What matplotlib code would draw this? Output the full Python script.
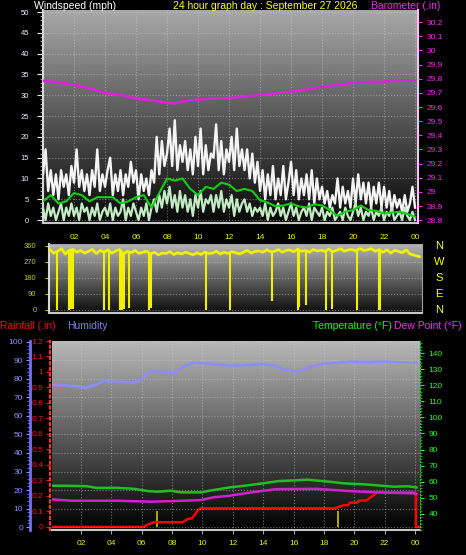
import matplotlib.pyplot as plt
import numpy as np

plt.rcParams['font.family'] = ['Liberation Sans', 'DejaVu Sans']

# hour-of-day axis labels
hour_ticks = [2, 4, 6, 8, 10, 12, 14, 16, 18, 20, 22, 24]
hour_labels = ['02', '04', '06', '08', '10', '12', '14', '16', '18', '20', '22', '00']

# wind gusts, 10 minute samples (mph)
gust = [11, 17, 7, 12, 6, 11,
        5, 12, 8, 11, 6, 13,
        9, 17, 8, 12, 7, 11,
        6, 12, 8, 17, 7, 11,
        8, 12, 15, 6, 11, 7,
        12, 6, 11, 8, 14, 9,
        12, 5, 11, 7, 10, 6,
        12, 9, 20, 11, 19, 13,
        16, 22, 13, 24, 12, 18,
        14, 19, 12, 17, 11, 20,
        13, 22, 11, 18, 12, 16,
        15, 23, 12, 19, 11, 17,
        14, 20, 12, 22, 13, 17,
        12, 17, 10, 16, 9, 14,
        7, 12, 5, 11, 6, 13,
        5, 10, 6, 13, 5, 9,
        14, 6, 12, 5, 10, 6,
        11, 5, 12, 4, 10, 5,
        8, 4, 7, 3, 6, 4,
        10, 3, 8, 4, 7, 3,
        10, 4, 11, 5, 9, 4,
        9, 3, 8, 4, 9, 3,
        8, 3, 7, 2, 6, 3,
        5, 2, 6, 2, 4, 8,
        3]
# average wind speed, 10 minute samples (mph)
avg_speed = [3, 0, 4, 1, 3, 0,
             2, 4, 0, 3, 1, 4,
             1, 3, 0, 4, 2, 3,
             0, 3, 1, 4, 0, 2,
             3, 1, 4, 0, 3, 1,
             2, 5, 0, 3, 1, 4,
             2, 0, 3, 1, 4, 0,
             3, 5, 2, 6, 3, 7,
             4, 8, 3, 6, 2, 7,
             3, 6, 2, 5, 1, 6,
             3, 7, 2, 5, 4, 6,
             2, 6, 3, 7, 2, 5,
             3, 6, 1, 5, 2, 4,
             5, 2, 4, 1, 3, 2,
             3, 1, 4, 0, 3, 1,
             2, 4, 1, 3, 0, 2,
             4, 1, 3, 0, 2, 3,
             1, 4, 0, 3, 2, 1,
             3, 0, 2, 1, 3, 0,
             1, 2, 0, 3, 1, 0,
             2, 4, 1, 3, 0, 2,
             1, 3, 0, 2, 1, 3,
             0, 2, 1, 3, 0, 1,
             2, 0, 3, 1, 0, 2,
             0]
# running average wind, half-hourly (mph)
wind_mean = [4.5, 6, 4, 4.5, 6.5, 6, 4.5, 5.5, 5.5, 5.5, 4, 4.5, 5.5, 6, 3,
             6.5, 10, 9.5, 10, 7.5, 6, 8, 7.5, 9, 8.5, 7, 7.5, 7, 4.8,
             4.2, 3.3, 3.5, 4, 3.3, 3, 3.8, 3.5, 2.4, 1, 2, 2.4, 3.5, 2.4,
             2.2, 1.6, 1.8, 2, 1.5, 0.8]
# barometer (in)
baro_t = [0, 1, 2, 3, 4, 5, 6, 7, 8, 8.5, 9, 10, 11, 12.3, 14, 16.1, 18, 20, 21.3, 21.7, 22.6, 24]
baro = [29.786, 29.774, 29.757, 29.733, 29.70, 29.686, 29.66, 29.648, 29.63, 29.625, 29.64,
        29.652, 29.66, 29.666, 29.686, 29.709, 29.743, 29.77, 29.78, 29.774, 29.79, 29.786]

# wind direction, 15 minute samples (deg)
wdir = [335, 325, 340, 320, 330, 345, 315, 335, 340, 325, 335, 320,
        330, 340, 318, 335, 325, 338, 320, 332, 340, 315, 330, 322,
        335, 318, 325, 330, 315, 325, 310, 320, 318, 328, 312, 322,
        315, 325, 318, 310, 322, 312, 325, 318, 320, 330, 315, 325,
        318, 328, 322, 315, 325, 335, 320, 330, 332, 325, 338, 328,
        330, 340, 325, 335, 338, 328, 342, 330, 335, 325, 340, 332,
        336, 330, 342, 328, 335, 345, 330, 338, 340, 332, 346, 335,
        338, 345, 330, 340, 325, 338, 320, 335, 330, 322, 338, 315, 300]
# short swings of the vane
swing_t = [0.95, 1.74, 1.87, 1.98, 4.0, 4.32, 5.03, 5.18, 5.29, 5.63, 6.9, 7.03,
           10.6, 12.1, 14.85, 16.54, 16.6, 17.06, 18.35, 18.7, 20.3, 21.72, 21.78]
swing_low = [0, 0, 5, 5, 0, 0, 0, 0, 5, 10, 0, 10, 0, 0, 50, 0, 15, 30, 0, 5, 0, 0, 0]

# rainfall (in), cumulative
rain_t = [0, 6.1, 6.4, 6.8, 8.7, 9.0, 9.3, 9.5, 9.7, 9.9, 18.7, 19.0, 19.3, 19.6, 19.7,
          20.2, 20.3, 20.8, 21.0, 21.3, 21.5, 24.05, 24.06, 24.3]
rain = [0, 0, 0.015, 0.03, 0.03, 0.05, 0.055, 0.08, 0.11, 0.12, 0.12, 0.13, 0.14, 0.14,
        0.157, 0.157, 0.17, 0.17, 0.185, 0.206, 0.224, 0.224, 0, 0]
rate_t = [6.99, 18.93]
rate = [0.1, 0.1]
# humidity (%)
hum_t = [0, 1, 2, 2.3, 3, 3.5, 4.5, 5.5, 5.9, 6.6, 7.5, 8.1, 8.8, 9.4, 10.3, 11.6, 12,
         13, 14, 14.9, 15.3, 16.3, 16.8, 17.8, 18.6, 19.7, 21, 22, 23, 24.1]
hum = [77, 76.5, 76, 75, 77, 79, 78.5, 78, 79.5, 84, 84, 83, 87, 88.8, 88.3, 87.5, 87,
       87.5, 88, 87, 85.2, 84, 85.7, 88, 88.6, 89.4, 89.2, 89.4, 89, 88.8]
# temperature and dew point (F)
temp_t = [0, 1, 2.4, 3, 4.4, 5.5, 6.4, 7, 7.9, 8.6, 9.9, 10.7, 11.8, 12.5, 14, 15, 16.4,
          16.9, 18.4, 19.3, 20.8, 22.6, 23.5, 24.1]
temp = [57.5, 57.5, 57.2, 56.2, 56.2, 55.6, 54.2, 53.8, 54.4, 53.4, 53.4, 54.8, 56.5,
        57.2, 59, 60.4, 61, 61.3, 60, 59, 58.3, 56.9, 57.2, 56.5]
dew_t = [0, 1.5, 4.4, 6.6, 8.8, 9.9, 10.7, 11.8, 12, 14, 14.9, 17.5, 19.7, 21.3, 23.9, 24.1]
dew = [49, 48.2, 48.2, 47.6, 48.2, 48.6, 50.3, 51.3, 51.7, 54.4, 55.4, 55.6, 54.2, 53.4, 52.8, 52.3]

W, H = 466, 555


def box(l, t, r, b):
    return [l / W, 1 - b / H, (r - l) / W, (b - t) / H]


def shade(ax, top, bottom):
    grad = np.linspace(bottom, top, 256).reshape(-1, 1)
    ax.imshow(grad, extent=[0, 1, 0, 1], transform=ax.transAxes, origin='lower',
              cmap='gray', vmin=0, vmax=1, aspect='auto', zorder=0)


def style(ax):
    ax.set_facecolor('black')
    ax.grid(color='#d0d0d0', linestyle=':', linewidth=0.8, alpha=0.5)
    for s in ax.spines.values():
        s.set_visible(False)
    ax.spines['left'].set_visible(True)
    ax.spines['bottom'].set_visible(True)
    ax.spines['left'].set_color('#d8d8d8')
    ax.spines['bottom'].set_color('#c8c8c8')
    ax.spines['left'].set_linewidth(1.5)
    ax.spines['bottom'].set_linewidth(1.5)


fig = plt.figure(figsize=(W / 100, H / 100), dpi=100, facecolor='black')

# ---- wind speed / barometer
ax1 = fig.add_axes(box(43, 10, 418, 223))
shade(ax1, 0.66, 0.03)
style(ax1)
t10 = np.arange(len(gust)) / 6
t30 = np.arange(len(wind_mean)) / 2
ax1.plot(t10, gust, color='#f4f4f4', lw=1.7, zorder=3)
ax1.plot(t10, avg_speed, color='#c4ecc4', lw=1.6, zorder=4)
ax1.plot(t30, wind_mean, color='#10d010', lw=1.5, zorder=5)
ax1.set_xlim(0, 24.19)
ax1.set_ylim(-0.7, 50.5)
ax1.set_yticks(range(0, 51, 5))
ax1.set_yticks(range(0, 51), minor=True)
ax1.set_xticks(hour_ticks)
ax1.set_xticklabels(hour_labels)
ax1.tick_params(axis='x', colors='#f0f000', labelsize=6, length=0, pad=8)
ax1.tick_params(axis='y', colors='#f0f0ff', labelsize=5.5, length=4, pad=6)
ax1.tick_params(axis='y', which='minor', colors='#b0b0b0', length=2)

ax1b = ax1.twinx()
ax1b.plot(baro_t, baro, color='#e020e0', lw=1.8, zorder=6)
ax1b.set_ylim(28.78, 30.286)
bt = np.round(np.arange(28.8, 30.21, 0.1), 1)
ax1b.set_yticks(bt)
ax1b.set_yticklabels([f'{v:g}' for v in bt])
ax1b.tick_params(axis='y', colors='#ff20ff', labelsize=6, length=3, pad=3)
for s in ax1b.spines.values():
    s.set_visible(False)
ax1b.spines['right'].set_visible(True)
ax1b.spines['right'].set_color('#f0c8f0')
ax1b.spines['right'].set_linewidth(1.5)

# ---- wind direction
ax2 = fig.add_axes(box(49, 244, 422, 313))
shade(ax2, 0.70, 0.05)
style(ax2)
ax2.grid(axis='x', visible=False)
t15 = np.arange(len(wdir)) / 4
t15[-1] = 24.35
ax2.plot(t15, wdir, color='#f0f000', lw=2.0, zorder=3)
base = np.interp(swing_t, t15, wdir)
ax2.vlines(swing_t, swing_low, base, color='#f0f000', lw=1.5, zorder=3)
ax2.set_xlim(0.45, 24.52)
ax2.set_ylim(-17, 371)
ax2.set_yticks([0, 90, 180, 270, 360])
ax2.set_xticks([])
ax2.tick_params(axis='y', colors='#c8c800', labelsize=5.5, length=3, pad=6)
for side in ['top', 'right']:
    ax2.spines[side].set_visible(True)
    ax2.spines[side].set_color('#a0a0a0')
for lab, deg in zip(['N', 'W', 'S', 'E', 'N'], [360, 270, 180, 90, 0]):
    ax2.text(1.045, (deg + 17) / 388, lab, transform=ax2.transAxes, color='#ffff00',
             fontsize=8, ha='center', va='center')

# ---- rain / humidity / temperature
ax3 = fig.add_axes(box(52, 341, 420, 530))
shade(ax3, 0.72, 0.0)
style(ax3)
ax3.grid(axis='y', visible=False)
ax3.bar(rate_t, rate, width=0.12, color='#a8a800', zorder=3)
ax3.plot(rain_t, rain, color='#ff0000', lw=1.8, zorder=6)
ax3.set_xlim(0.09, 24.33)
ax3.set_ylim(-0.02, 1.2)
rt = np.round(np.arange(0, 1.21, 0.1), 1)
ax3.set_yticks(rt)
ax3.set_yticklabels([f'{v:g}' for v in rt])
ax3.set_xticks(hour_ticks)
ax3.set_xticklabels(hour_labels)
ax3.tick_params(axis='x', colors='#f0f000', labelsize=6, length=3, pad=4)
ax3.tick_params(axis='x', color='#a0a0a0')
ax3.tick_params(axis='y', colors='#ff1010', labelsize=6, length=3, pad=2)
ax3.spines['left'].set_position(('axes', -2 / 368))
ax3.spines['left'].set_color('#ff3030')
ax3.spines['left'].set_linestyle(':')

ax3h = ax3.twinx()
ax3h.plot(hum_t, hum, color='#8c8cff', lw=1.8, zorder=4)
ax3h.set_ylim(-1.6, 100.5)
ax3h.set_yticks(range(0, 101, 10))
ax3h.set_yticks(range(0, 101, 2), minor=True)
ax3h.yaxis.set_ticks_position('left')
ax3h.yaxis.set_label_position('left')
ax3h.grid(axis='y', color='#d0d0d0', linestyle=':', linewidth=0.8, alpha=0.5)
for s in ax3h.spines.values():
    s.set_visible(False)
ax3h.spines['left'].set_visible(True)
ax3h.spines['left'].set_position(('axes', -22 / 368))
ax3h.spines['left'].set_color('#7070ff')
ax3h.spines['left'].set_linewidth(2)
ax3h.tick_params(axis='y', colors='#9090ff', labelsize=6, length=3, pad=2)
ax3h.tick_params(axis='y', which='minor', colors='#7070ff', length=2)

ax3t = ax3.twinx()
ax3t.plot(temp_t, temp, color='#20c020', lw=1.8, zorder=5)
ax3t.plot(dew_t, dew, color='#d020d0', lw=1.8, zorder=5)
ax3t.set_ylim(30, 147.5)
ax3t.set_yticks(range(40, 141, 10))
ax3t.set_yticks(range(30, 148, 2), minor=True)
for s in ax3t.spines.values():
    s.set_visible(False)
ax3t.spines['right'].set_visible(True)
ax3t.spines['right'].set_color('#20d020')
ax3t.spines['right'].set_linestyle(':')
ax3t.tick_params(axis='y', colors='#20ff20', labelsize=6, length=3, pad=3)
ax3t.tick_params(axis='y', which='minor', colors='#20c020', length=1.5)

# ---- headers
def label(x, y, s, c):
    fig.text(x / W, 1 - y / H, s, color=c, fontsize=7.5, ha='left', va='center')


label(34, 6, 'Windspeed (mph)', '#ffffff')
label(173, 6, '24 hour graph day : September 27 2026', '#ffff00')
label(371, 6, 'Barometer (.in)', '#ff20ff')
label(0, 326, 'Rainfall (.in)', '#ff0000')
label(67, 326, 'Humidity', '#8080ff')
label(313, 326, 'Temperature (°F)', '#00ff00')
label(394, 326, 'Dew Point (°F)', '#ff20ff')

fig.savefig('out.png', dpi=100, facecolor='black')
